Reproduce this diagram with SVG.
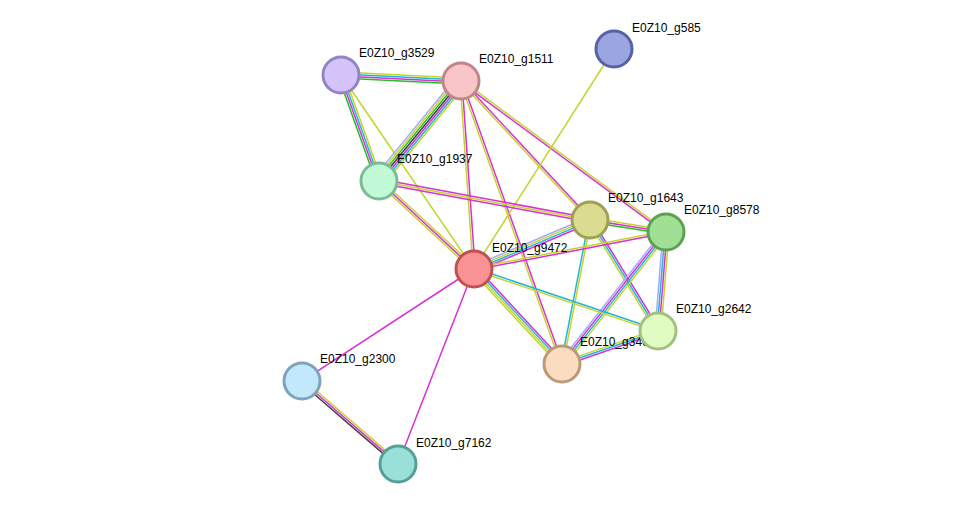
<svg xmlns="http://www.w3.org/2000/svg" width="975" height="510" viewBox="0 0 975 510">
<style>
line{stroke-width:1.5;fill:none}
.y{stroke:#c4d42c}.m{stroke:#d630d6}.c{stroke:#22b4d8}.g{stroke:#22c022}.k{stroke:#404040}.l{stroke:#a8a8f4}
circle{stroke-width:3}
text{font-family:"Liberation Sans",Arial,sans-serif;font-size:12px;fill:#000}
</style>
<rect width="975" height="510" fill="#fff"/>
<g id="connectors">
<g transform="translate(341,75) rotate(2.86)"><line class="y" x1="0" y1="-3" x2="120.1" y2="-3"/><line class="c" x1="0" y1="-1" x2="120.1" y2="-1"/><line class="m" x1="0" y1="1" x2="120.1" y2="1"/><line class="g" x1="0" y1="3" x2="120.1" y2="3"/></g>
<g transform="translate(341,75) rotate(70.3)"><line class="y" x1="0" y1="-3" x2="112.6" y2="-3"/><line class="c" x1="0" y1="-1" x2="112.6" y2="-1"/><line class="m" x1="0" y1="1" x2="112.6" y2="1"/><line class="g" x1="0" y1="3" x2="112.6" y2="3"/></g>
<g transform="translate(341,75) rotate(55.6)"><line class="y" x1="0" y1="0" x2="235.2" y2="0"/></g>
<g transform="translate(461,81) rotate(129.4)"><line class="y" x1="0" y1="-6" x2="129.3" y2="-6"/><line class="c" x1="0" y1="-4" x2="129.3" y2="-4"/><line class="m" x1="0" y1="-2" x2="129.3" y2="-2"/><line class="k" x1="0" y1="0" x2="129.3" y2="0"/><line class="g" x1="0" y1="2" x2="129.3" y2="2"/><line class="y" x1="0" y1="4" x2="129.3" y2="4"/><line class="l" x1="0" y1="6" x2="129.3" y2="6"/></g>
<g transform="translate(461,81) rotate(86.0)"><line class="m" x1="0" y1="-1" x2="188.4" y2="-1"/><line class="y" x1="0" y1="1" x2="188.4" y2="1"/></g>
<g transform="translate(461,81) rotate(70.4)"><line class="m" x1="0" y1="-1" x2="300.5" y2="-1"/><line class="y" x1="0" y1="1" x2="300.5" y2="1"/></g>
<g transform="translate(461,81) rotate(47.1)"><line class="m" x1="0" y1="-1" x2="189.6" y2="-1"/><line class="y" x1="0" y1="1" x2="189.6" y2="1"/></g>
<g transform="translate(461,81) rotate(36.4)"><line class="y" x1="0" y1="-1" x2="254.6" y2="-1"/><line class="m" x1="0" y1="1" x2="254.6" y2="1"/></g>
<g transform="translate(614,49) rotate(122.5)"><line class="y" x1="0" y1="0" x2="260.8" y2="0"/></g>
<g transform="translate(379,181) rotate(10.5)"><line class="m" x1="0" y1="-2" x2="214.6" y2="-2"/><line class="y" x1="0" y1="0" x2="214.6" y2="0"/><line class="m" x1="0" y1="2" x2="214.6" y2="2"/></g>
<g transform="translate(379,181) rotate(42.8)"><line class="y" x1="0" y1="-2" x2="129.5" y2="-2"/><line class="m" x1="0" y1="0" x2="129.5" y2="0"/><line class="y" x1="0" y1="2" x2="129.5" y2="2"/></g>
<g transform="translate(590,220) rotate(9.0)"><line class="y" x1="0" y1="-2" x2="76.9" y2="-2"/><line class="m" x1="0" y1="0" x2="76.9" y2="0"/><line class="g" x1="0" y1="2" x2="76.9" y2="2"/></g>
<g transform="translate(590,220) rotate(157.1)"><line class="m" x1="0" y1="-3" x2="125.9" y2="-3"/><line class="c" x1="0" y1="-1" x2="125.9" y2="-1"/><line class="y" x1="0" y1="1" x2="125.9" y2="1"/><line class="l" x1="0" y1="3" x2="125.9" y2="3"/></g>
<g transform="translate(590,220) rotate(58.5)"><line class="m" x1="0" y1="-2" x2="130.2" y2="-2"/><line class="c" x1="0" y1="0" x2="130.2" y2="0"/><line class="y" x1="0" y1="2" x2="130.2" y2="2"/></g>
<g transform="translate(590,220) rotate(101.0)"><line class="y" x1="0" y1="-1" x2="146.7" y2="-1"/><line class="c" x1="0" y1="1" x2="146.7" y2="1"/></g>
<g transform="translate(666,232) rotate(169.1)"><line class="m" x1="0" y1="-1" x2="195.5" y2="-1"/><line class="y" x1="0" y1="1" x2="195.5" y2="1"/></g>
<g transform="translate(666,232) rotate(94.6)"><line class="y" x1="0" y1="-3" x2="99.3" y2="-3"/><line class="m" x1="0" y1="-1" x2="99.3" y2="-1"/><line class="c" x1="0" y1="1" x2="99.3" y2="1"/><line class="l" x1="0" y1="3" x2="99.3" y2="3"/></g>
<g transform="translate(666,232) rotate(128.2)"><line class="y" x1="0" y1="-3" x2="168" y2="-3"/><line class="c" x1="0" y1="-1" x2="168" y2="-1"/><line class="m" x1="0" y1="1" x2="168" y2="1"/><line class="l" x1="0" y1="3" x2="168" y2="3"/></g>
<g transform="translate(474,269) rotate(18.6)"><line class="c" x1="0" y1="-1" x2="194.2" y2="-1"/><line class="y" x1="0" y1="1" x2="194.2" y2="1"/></g>
<g transform="translate(474,269) rotate(47.2)"><line class="m" x1="0" y1="-3" x2="129.5" y2="-3"/><line class="c" x1="0" y1="-1" x2="129.5" y2="-1"/><line class="y" x1="0" y1="1" x2="129.5" y2="1"/><line class="y" x1="0" y1="3" x2="129.5" y2="3"/></g>
<g transform="translate(474,269) rotate(146.9)"><line class="m" x1="0" y1="0" x2="205.2" y2="0"/></g>
<g transform="translate(474,269) rotate(111.3)"><line class="m" x1="0" y1="0" x2="209.3" y2="0"/></g>
<g transform="translate(658,331) rotate(161.0)"><line class="m" x1="0" y1="-2" x2="101.5" y2="-2"/><line class="c" x1="0" y1="0" x2="101.5" y2="0"/><line class="y" x1="0" y1="2" x2="101.5" y2="2"/></g>
<g transform="translate(302,381) rotate(40.8)"><line class="y" x1="0" y1="-2" x2="126.9" y2="-2"/><line class="m" x1="0" y1="0" x2="126.9" y2="0"/><line class="k" x1="0" y1="2" x2="126.9" y2="2"/></g>
</g>
<g id="g3529"><circle cx="341" cy="75" r="18" fill="#d4c4fa" stroke="#9484c4"/><text x="359" y="57">E0Z10_g3529</text></g>
<g id="g1511"><circle cx="461" cy="81" r="18" fill="#f8c6c8" stroke="#c08688"/><text x="479" y="63">E0Z10_g1511</text></g>
<g id="g585"><circle cx="614" cy="49" r="18" fill="#9aa6e2" stroke="#5662a2"/><text x="632" y="32">E0Z10_g585</text></g>
<g id="g1937"><circle cx="379" cy="181" r="18" fill="#c2fad8" stroke="#7abc94"/><text x="397" y="163">E0Z10_g1937</text></g>
<g id="g34xx"><circle cx="562" cy="364" r="18" fill="#fcdcc0" stroke="#bc9a78"/><text x="580" y="346">E0Z10_g3468</text></g>
<g id="g2642"><circle cx="658" cy="331" r="18" fill="#e0fcc0" stroke="#a2c080"/><text x="676" y="313">E0Z10_g2642</text></g>
<g id="g1643"><circle cx="590" cy="220" r="18" fill="#dcdc90" stroke="#a0a054"/><text x="608" y="202">E0Z10_g1643</text></g>
<g id="g8578"><circle cx="666" cy="232" r="18" fill="#a0e094" stroke="#5ea052"/><text x="684" y="214">E0Z10_g8578</text></g>
<g id="g9472"><circle cx="474" cy="269" r="18" fill="#f89294" stroke="#c05054"/><text x="492" y="252">E0Z10_g9472</text></g>
<g id="g2300"><circle cx="302" cy="381" r="18" fill="#c2e8fc" stroke="#80a2bc"/><text x="320" y="363">E0Z10_g2300</text></g>
<g id="g7162"><circle cx="398" cy="464" r="18" fill="#98e0d8" stroke="#54a098"/><text x="416" y="447">E0Z10_g7162</text></g>
</svg>
